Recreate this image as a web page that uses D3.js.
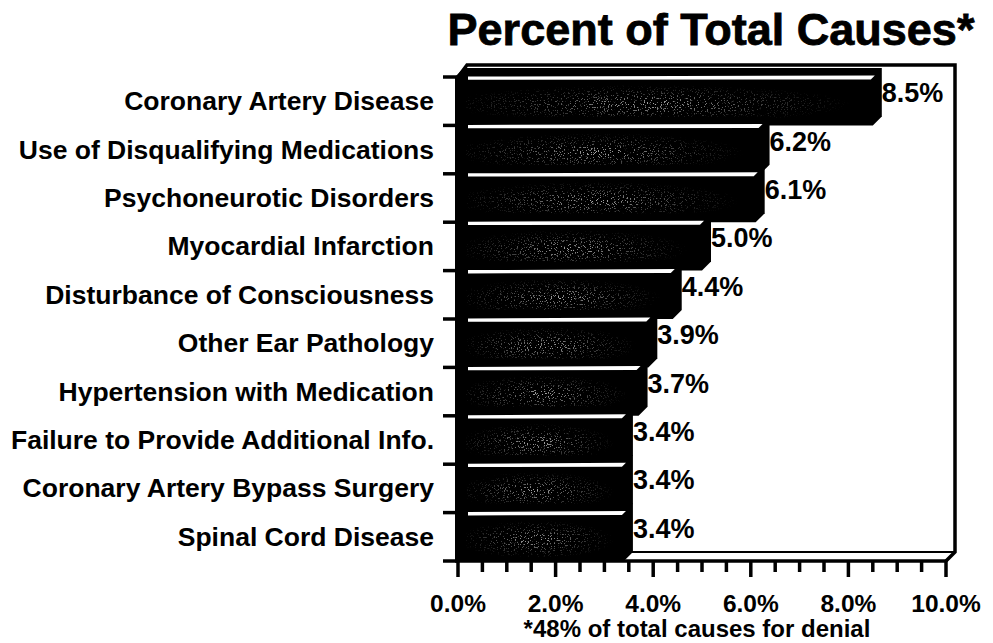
<!DOCTYPE html>
<html lang="en">
<head>
  <meta charset="UTF-8">
  <title>Percent of Total Causes</title>
  <style>
    body { margin: 0; background: #fff; }
    text { font-family: "Liberation Sans", Arial, sans-serif; font-weight: bold; fill: #000; }
  </style>
</head>
<body>
  <script src="https://d3js.org/d3.v7.min.js"></script>
  <script>
  var categories = [
    "Coronary Artery Disease",
    "Use of Disqualifying Medications",
    "Psychoneurotic Disorders",
    "Myocardial Infarction",
    "Disturbance of Consciousness",
    "Other Ear Pathology",
    "Hypertension with Medication",
    "Failure to Provide Additional Info.",
    "Coronary Artery Bypass Surgery",
    "Spinal Cord Disease"
  ];
  var values = [8.5, 6.2, 6.1, 5.0, 4.4, 3.9, 3.7, 3.4, 3.4, 3.4];
  var tickValues = [0, 2, 4, 6, 8, 10];
  var minorTicks = d3.range(0, 10.01, 0.5);

  var w = 993, h = 643;
  var depth = 9;   // 3d offset of the back wall

  var svg = d3.select('body').append('svg')
    .attr('width', w)
    .attr('height', h);

  var x = d3.scaleLinear().domain([0, 10]).range([458, 946]);
  var y = d3.scaleBand().domain(categories).range([77, 561]).padding(0);
  var x0 = x(0), yb = y.range()[1];

  // speckle texture for the bars
  var defs = svg.append('defs');
  var grad = defs.append('radialGradient').attr('id', 'haze')
    .attr('cx', '45%').attr('cy', '55%').attr('r', '50%');
  grad.append('stop').attr('offset', '0%').attr('stop-color', '#fff').attr('stop-opacity', 0.8);
  grad.append('stop').attr('offset', '55%').attr('stop-color', '#fff').attr('stop-opacity', 0.3);
  grad.append('stop').attr('offset', '100%').attr('stop-color', '#fff').attr('stop-opacity', 0);
  var f = defs.append('filter').attr('id', 'speck');
  f.append('feTurbulence').attr('type', 'fractalNoise').attr('baseFrequency', 0.7)
    .attr('numOctaves', 2).attr('seed', 5).attr('result', 'n');
  f.append('feColorMatrix').attr('in', 'n').attr('type', 'matrix')
    .attr('values', '0 0 0 0 0.7  0 0 0 0 0.7  0 0 0 0 0.7  0 0 0 16 -9.8')
    .attr('result', 'dots');
  f.append('feComposite').attr('in', 'dots').attr('in2', 'SourceGraphic').attr('operator', 'in');

  // title
  svg.append('text')
    .attr('x', 711).attr('y', 45)
    .attr('text-anchor', 'middle')
    .style('font-size', '45px')
    .style('stroke', '#000').style('stroke-width', 0.8)
    .text('Percent of Total Causes*');

  // back wall / frame
  svg.append('path')
    .attr('d', 'M' + x0 + ',' + (y.range()[0]) +
      'L' + (x0 + depth) + ',' + (y.range()[0] - depth - 3) +
      'H' + (x(10) + depth) +
      'V' + (yb - depth) +
      'L' + x(10) + ',' + yb)
    .attr('fill', 'none').attr('stroke', '#000').attr('stroke-width', 3.5);
  svg.append('line')
    .attr('x1', x0 + depth).attr('x2', x(10) + depth)
    .attr('y1', yb - depth).attr('y2', yb - depth)
    .attr('stroke', '#000').attr('stroke-width', 2);

  // bars
  var bars = svg.selectAll('g.bar')
    .data(values)
    .enter()
    .append('g')
    .attr('class', 'bar');

  bars.append('path')
    .attr('d', function (d, i) {
      var t = y(categories[i]), b = t + y.bandwidth(), xv = x(d);
      return 'M' + (x0 - 3) + ',' + t +
        'L' + (x0 + depth - 3) + ',' + (t - depth) +
        'L' + (xv + depth) + ',' + (t - depth) +
        'L' + (xv + depth) + ',' + (b - depth) +
        'L' + xv + ',' + b +
        'L' + (x0 - 3) + ',' + b + 'Z';
    })
    .attr('fill', '#000');

  bars.append('rect')
    .attr('x', x0 + 8)
    .attr('y', function (d, i) { return y(categories[i]) + 6; })
    .attr('width', function (d) { return x(d) - x0 - 10; })
    .attr('height', y.bandwidth() - 10)
    .attr('fill', 'url(#haze)')
    .attr('filter', 'url(#speck)');

  // top highlight of each bar
  bars.append('path')
    .attr('d', function (d, i) {
      var t = y(categories[i]) + 1, xv = x(d);
      return 'M' + (x0 + 10) + ',' + (t - 1.5) +
        'L' + (xv + 2) + ',' + (t - 2.5) +
        'L' + (xv - 2) + ',' + (t + 1.5) +
        'L' + (x0 + 10) + ',' + (t + 1.8) + 'Z';
    })
    .attr('fill', '#fff');

  // value labels
  bars.append('text')
    .attr('x', function (d) { return x(d) + depth; })
    .attr('y', function (d, i) { return y(categories[i]) + y.bandwidth() / 2 - depth + 1; })
    .attr('dominant-baseline', 'central')
    .style('font-size', '27px')
    .text(function (d) { return d.toFixed(1) + '%'; });

  // category axis: stubs and labels
  svg.selectAll('line.stub')
    .data(d3.range(categories.length + 1))
    .enter()
    .append('line')
    .attr('class', 'stub')
    .attr('x1', x0 - 15).attr('x2', x0)
    .attr('y1', function (i) { return y.range()[0] + i * y.bandwidth(); })
    .attr('y2', function (i) { return y.range()[0] + i * y.bandwidth(); })
    .attr('stroke', '#000').attr('stroke-width', 3.5);

  svg.selectAll('text.cat')
    .data(categories)
    .enter()
    .append('text')
    .attr('class', 'cat')
    .attr('x', 434)
    .attr('y', function (d) { return y(d) + y.bandwidth() / 2; })
    .attr('text-anchor', 'end')
    .attr('dominant-baseline', 'central')
    .style('font-size', '26.5px')
    .text(function (d) { return d; });

  // value axis
  svg.append('line')
    .attr('x1', x0 - 3).attr('x2', x(10))
    .attr('y1', yb).attr('y2', yb)
    .attr('stroke', '#000').attr('stroke-width', 3.5);

  svg.selectAll('line.tick')
    .data(minorTicks)
    .enter()
    .append('line')
    .attr('class', 'tick')
    .attr('x1', function (d) { return x(d); })
    .attr('x2', function (d) { return x(d); })
    .attr('y1', yb)
    .attr('y2', function (d) { return yb + (d % 2 === 0 ? 16 : 11); })
    .attr('stroke', '#000').attr('stroke-width', 3.5);

  svg.selectAll('text.tl')
    .data(tickValues)
    .enter()
    .append('text')
    .attr('class', 'tl')
    .attr('x', function (d) { return x(d); })
    .attr('y', 612)
    .attr('text-anchor', 'middle')
    .style('font-size', '24.5px')
    .text(function (d) { return d.toFixed(1) + '%'; });

  svg.append('text')
    .attr('x', 697).attr('y', 637)
    .attr('text-anchor', 'middle')
    .style('font-size', '24px')
    .text('*48% of total causes for denial');
  </script>
</body>
</html>
